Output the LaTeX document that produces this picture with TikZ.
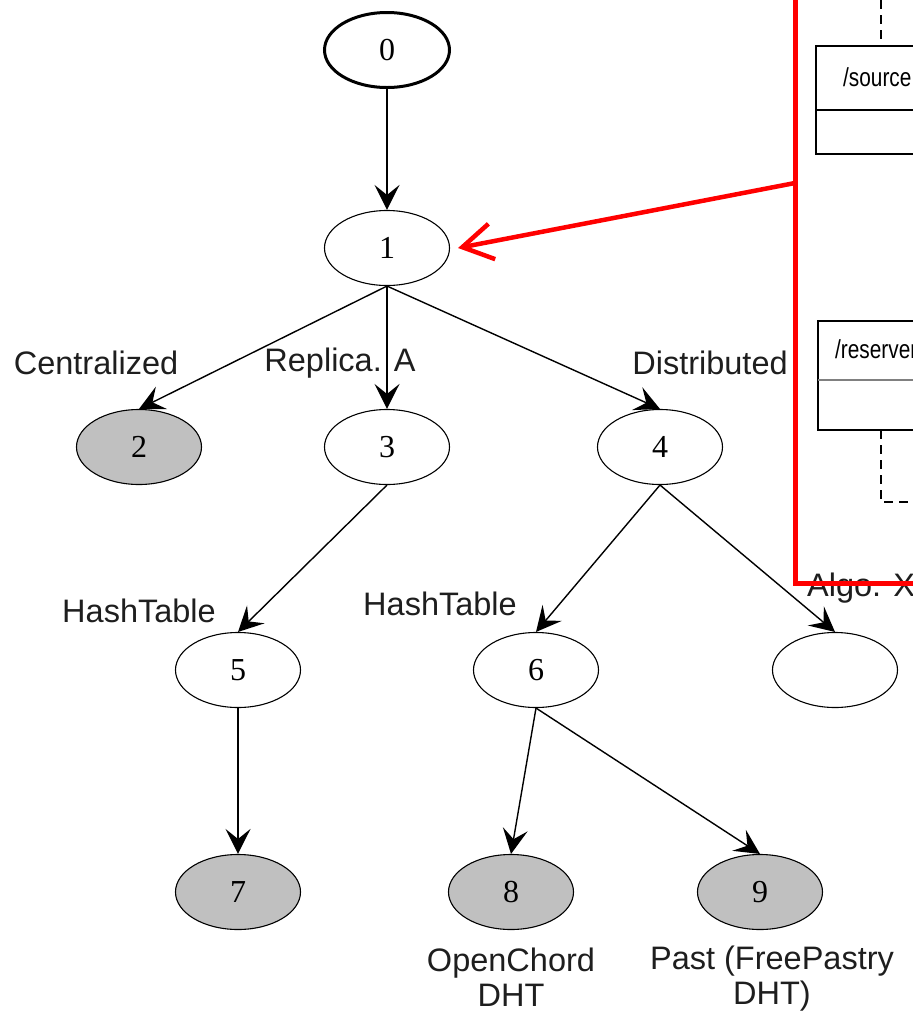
\documentclass[tikz,border=0pt]{standalone}
\usepackage{fontspec}
\setmainfont{Liberation Serif}
\setsansfont{Liberation Sans}
\usetikzlibrary{shapes.geometric,arrows.meta,calc}
\definecolor{leafgray}{RGB}{192,192,192}
\definecolor{markred}{RGB}{255,0,0}
\definecolor{inkgray}{RGB}{30,30,30}
\begin{document}
\begin{tikzpicture}[x=1pt,y=-1pt,
  state/.style={ellipse,draw,line width=1.1pt,minimum width=125pt,minimum height=75pt,
    inner sep=0pt,font=\fontsize{32}{36}\selectfont},
  rootstate/.style={state,line width=3pt},
  leaf/.style={state,fill=leafgray},
  edge/.style={line width=1.4pt,-{Stealth[length=25pt,width=25pt,inset=10pt]}},
  elabel/.style={font=\sffamily\fontsize{32.5}{35}\selectfont,text=inkgray,inner sep=0pt,align=center},
  umlbox/.style={draw,line width=1.2pt},
  umltext/.style={font=\sffamily\fontsize{26}{30}\selectfont,anchor=west,inner sep=0pt},
  link/.style={line width=1.2pt,dash pattern=on 9pt off 6pt},
  hilite/.style={draw=markred,line width=5pt},
]
\useasboundingbox (0,0) rectangle (913,1013);
\clip (0,0) rectangle (913,1013);

% tree nodes
\node[rootstate] (n0) at (387,50) {0};
\node[state] (n1) at (387,248) {1};
\node[leaf]  (n2) at (139,447) {2};
\node[state] (n3) at (387,447) {3};
\node[state] (n4) at (660,447) {4};
\node[state] (n5) at (238,670) {5};
\node[state] (n6) at (536,670) {6};
\node[state] (nx) at (835,670) {};
\node[leaf]  (n7) at (238,892) {7};
\node[leaf]  (n8) at (511,892) {8};
\node[leaf]  (n9) at (760,892) {9};

% edges
\draw[edge] (n0.south) -- (n1.north);
\draw[edge] (n1.south) -- (n2.north);
\draw[edge] (n1.south) -- (n3.north);
\draw[edge] (n1.south) -- (n4.north);
\draw[edge] (n3.south) -- (n5.north);
\draw[edge] (n4.south) -- (n6.north);
\draw[edge] (n4.south) -- (nx.north);
\draw[edge] (n5.south) -- (n7.north);
\draw[edge] (n6.south) -- (n8.north);
\draw[edge] (n6.south) -- (n9.north);

% edge labels
\node[elabel] (lc) at (96,363) {Centralized};
\node[elabel] (lr) at (340,363) {Replica. A};
\node[elabel] (ld) at (710,363) {Distributed};
\node[elabel] (lh1) at (139,611) {HashTable};
\node[elabel] (lh2) at (440,604) {HashTable};
\node[elabel,anchor=west] (la) at (807,588) {Algo. X};
\node[elabel] (lo) at (511,977) {OpenChord\\DHT};
\node[elabel] (lp) at (772,979) {Past (FreePastry\\DHT)};

% class boxes
\draw[umlbox] (816,46) rectangle (930,154);
\draw[line width=1.2pt] (816,110) -- (930,110);
\node[umltext] (src) at (843,77) {\scalebox{0.8}[1]{/source}};
\draw[link] (881,0) -- (881,46);

\draw[umlbox] (818,321) rectangle (930,430);
\draw[line width=2pt,gray] (818,380) -- (930,380);
\node[umltext] (res) at (835,349) {\scalebox{0.8}[1]{/reserver}};
\draw[link] (881,430) -- (881,502) -- (930,502);

% highlight frame and pointer
\draw[hilite] (795,-10) rectangle (940,583);
\coordinate (frameleft) at (795,183);
\draw[markred,line width=4.5pt,-{Straight Barb[length=30pt,width=36pt]}] (frameleft) -- ($(n1.east)+(8,0)$);
\end{tikzpicture}
\end{document}
